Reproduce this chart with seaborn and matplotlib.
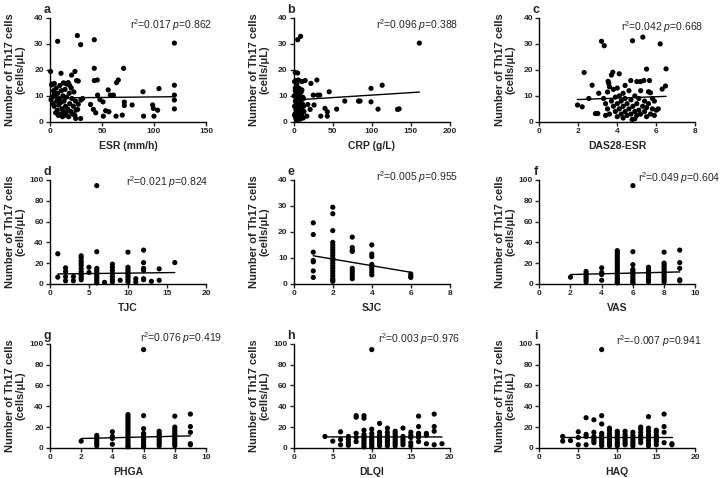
import numpy as np
import pandas as pd
import matplotlib
matplotlib.use('Agg')
import matplotlib.pyplot as plt
import seaborn as sns

# ---- data: (x, y) pairs for the continuous scores ----
esr_pts = [(0.6, 19.4), (7.4, 31), (26.3, 33.2), (29.5, 29.7), (42.6, 31.6), (119.6, 30.3),
           (10.6, 18.7), (20.8, 18), (24, 19.4), (42.6, 20.6), (70.8, 20.6), (42.6, 15.9),
           (45.5, 16.1), (25.6, 15.9), (27.2, 15.7), (64, 15.1), (65.7, 16.1), (119.6, 14.1),
           (4.2, 14.8), (1.6, 14.2), (15, 14.8), (17.6, 15.1), (56, 12.3), (89.4, 11.6),
           (104.8, 12.8), (119.6, 10.3), (119.6, 8.4), (119.6, 5.0), (58, 10.3), (61, 10.3),
           (48, 8.6), (51, 7.7), (45.8, 10.3), (71.5, 7.6), (71.5, 6.3), (79, 6.5), (98.7, 6.5),
           (99.4, 5.2), (100, 2.2), (103.5, 4.5), (90, 2.2), (63.5, 2.2), (69.5, 2.6), (53.5, 4.3),
           (56.7, 3.9), (51.3, 2.2), (39, 6.7), (41.7, 4.8), (44, 3.5), (31.4, 9), (29.8, 8.4),
           (27.2, 6.8), (26.6, 4.8), (24.7, 1.3), (29.5, 1.3),
           (1, 8.5), (2, 9.5), (3, 7), (3.5, 12), (4, 6), (5, 10), (5.5, 3.5), (6, 13), (6.5, 8),
           (7, 4.5), (7.5, 11), (8, 2.5), (8.5, 6.5), (9, 9), (9.5, 14), (10, 3), (10.5, 7.5),
           (11, 12), (11.5, 5), (12, 2), (12.5, 10), (13, 4), (13.5, 8), (14, 2.5), (14.5, 12.5),
           (15, 6), (15.5, 3.5), (16, 9.5), (16.5, 14.5), (17, 5), (18, 2), (18.5, 11), (19, 7),
           (20, 4), (20.5, 13), (21, 9), (22, 3), (22.5, 6), (23, 11.5), (24, 2.5), (24.5, 8),
           (25, 4.5), (2, 14.5), (4, 11), (13, 15), (19, 14)]

crp_pts = [(5, 31.6), (8.75, 32.9), (161, 30.3), (2, 19), (5, 18.8), (3, 15.9), (6, 16.1),
           (10.4, 15.5), (14.6, 15.9), (22, 14.8), (29.6, 16.1), (7, 12.9), (10.4, 12.3),
           (25, 10.3), (30.4, 10.3), (33.3, 10.3), (45.4, 11.6), (12.5, 9), (18, 6.7), (21, 4.8),
           (26, 6.5), (40, 5.2), (43, 3.9), (43, 2.2), (34.6, 2.2), (55, 4.9), (65.4, 8), (83, 8),
           (85, 8), (99, 12.9), (99, 7.7), (113.3, 14.1), (108, 4.9), (133, 4.8), (135, 5),
           (16.7, 2.2),
           (0.5, 10), (1, 6), (1.5, 3), (2, 13), (2, 8), (2.5, 1.5), (3, 11), (3, 4.5), (3.5, 7),
           (4, 14.5), (4, 2), (4.5, 9), (5, 5), (5, 12), (5.5, 3), (6, 7.5), (6.5, 1.5), (7, 10.5),
           (7, 4), (8, 6), (8.5, 2.5), (9, 8.5), (9.5, 11.5), (10, 5), (10.5, 3), (11, 7),
           (11.5, 9.5), (12, 1.5), (12.5, 6), (13, 4), (1, 15.5), (2, 12), (6, 9), (8, 1), (4, 0.8),
           (3, 10), (1, 2.5), (2.5, 5.5)]

das_pts = [(1.96, 6.5), (2.2, 5.8), (2.3, 19), (3.19, 31), (3.33, 29.3), (4.78, 31.2),
           (5.31, 32.6), (6.2, 30), (5.5, 20.3), (6.5, 20.4), (6.47, 13.8), (6.3, 12.6),
           (3.77, 19.1), (3.7, 18), (4.1, 18.5), (2.71, 14.1), (2.54, 9), (3.05, 11), (3.53, 15.6),
           (3.56, 14.8), (4.69, 15.9), (5.0, 15.5), (5.19, 15.5), (5.36, 15.9), (5.65, 15.9),
           (2.88, 3.2), (3.0, 3.2), (5.6, 11.6), (5.7, 11.2), (4.76, 0.9), (4.9, 1.2),
           (3.3, 9), (3.4, 7), (3.5, 5), (3.5, 11.5), (3.6, 3), (3.7, 8), (3.8, 6), (3.8, 12.5),
           (3.9, 4), (3.9, 9.5), (4.0, 2), (4.0, 7), (4.0, 13), (4.1, 5), (4.1, 10), (4.2, 3),
           (4.2, 8), (4.3, 1.5), (4.3, 6), (4.3, 11), (4.4, 4), (4.4, 9), (4.5, 2.5), (4.5, 7),
           (4.6, 5), (4.6, 12), (4.7, 3), (4.7, 8.5), (4.8, 6), (4.9, 4), (4.9, 10), (5.0, 2.5),
           (5.0, 7), (5.1, 4.5), (5.1, 9), (5.2, 3), (5.2, 12), (5.3, 6), (5.4, 4), (5.4, 8),
           (5.5, 2), (5.5, 5.5), (5.6, 7), (5.7, 3), (5.8, 5), (5.8, 9), (5.9, 2.5), (6.0, 4.5),
           (6.1, 5), (3.4, 2.5), (3.6, 13.5), (4.4, 14), (5.9, 8)]

# ---- integer scores: y values listed per x value ----
tjc_cols = {1: [29, 6.5], 2: [15.5, 12, 7, 3], 3: [7, 3],
            4: [27, 25, 22, 20, 18, 15, 12, 10, 8, 6, 4], 5: [16, 11],
            6: [94.5, 31, 15, 13, 11, 9, 7, 5, 3, 1], 7: [1.5], 8: [19, 16, 13, 10, 7, 4, 2],
            9: [3.5], 10: [30.5, 16, 14, 12, 10, 8, 6, 4, 2], 11: [5, 2],
            12: [32.5, 20.5, 15, 13, 5, 4], 13: [2.5], 14: [14.5, 3.5], 16: [20.5]}

sjc_cols = {1: [23.5, 19, 12.2, 9, 8.5, 5, 2.5],
            2: [29.5, 27, 20.5, 16, 15, 14, 13, 12, 11, 10, 9.5, 9, 8, 7, 6, 5, 4, 3, 2, 1.5, 1],
            3: [18, 14, 13, 12.5, 6, 5, 4, 3, 2],
            4: [15, 11.5, 10.5, 7.5, 7, 6.5, 5.5, 4.5, 3.5],
            6: [3.8, 3, 2.5]}

vas_cols = {2: [6.5], 3: [12, 10, 8, 6, 4, 2], 4: [15.5, 11, 9, 3.5],
            5: [32, 30, 28, 26, 24, 22, 20, 18, 16, 14, 12, 10, 8, 6, 4, 2, 1],
            6: [94.5, 31, 18.5, 14, 12, 10, 8, 6, 4, 2, 1],
            7: [16, 14, 12, 10, 8, 6, 4, 2],
            8: [30.5, 20, 18, 16, 14, 12, 10, 8, 6, 4, 2],
            9: [32.5, 20.5, 15, 4, 3]}
phga_cols = dict(vas_cols)

dlqi_cols = {4: [11], 5: [6.5], 6: [15.5, 8, 3], 7: [11, 8, 5, 2.5], 8: [31, 29.5, 14, 10, 6],
             9: [31, 28.5, 17, 13, 11, 9, 7, 5, 3, 1], 10: [94.5, 18, 14, 11, 9, 7, 5, 3, 1],
             11: [23.5, 15, 12, 10, 8, 6, 4, 2], 12: [19, 15, 12, 10, 8, 6, 4, 2],
             13: [16, 14, 12, 10, 8, 6, 4, 2], 14: [19, 11, 9, 7, 5, 3], 15: [15, 12, 10, 5, 2],
             16: [30.5, 20.5, 14, 12, 10, 6], 17: [14, 12, 4], 18: [32.5, 20.5, 16, 3], 19: [4]}

haq_cols = {3: [11, 6.5], 4: [7], 5: [15.5, 10, 3], 6: [29, 13, 11, 3], 7: [27, 15, 11, 9, 7, 5],
            8: [94.5, 31, 23, 14, 12, 10, 8, 6, 4, 2], 9: [19, 17, 14, 12, 10, 8, 6, 4, 2],
            10: [16, 14, 12, 10, 8, 6, 4, 2], 11: [16, 13, 11, 9, 7, 5, 3],
            12: [15, 12, 10, 8, 6, 4, 2], 13: [20, 18, 15, 12, 10, 8, 5],
            14: [30, 19, 16, 13, 11, 9, 7, 4, 2], 15: [17, 15, 12, 10, 8, 6, 3],
            16: [32.5, 20.5, 15, 5], 17: [4, 3]}

# fitted lines (intercept, slope)
fit_b0 = [9.2, 8.4, 8.06, 9.5, 12.1, 8.3, 8.3, 10.6, 10.5]
fit_b1 = [0.004, 0.019, 0.27, 0.09, -1.27, 0.36, 0.36, -0.005, 0.0]

letters = ['a', 'b', 'c', 'd', 'e', 'f', 'g', 'h', 'i']
xlabels = ['ESR (mm/h)', 'CRP (g/L)', 'DAS28-ESR', 'TJC', 'SJC', 'VAS', 'PHGA', 'DLQI', 'HAQ']
r2_txt = ['0.017', '0.096', '0.042', '0.021', '0.005', '0.049', '0.076', '0.003', '-0.007']
p_txt = ['0.862', '0.388', '0.668', '0.824', '0.955', '0.604', '0.419', '0.976', '0.941']
xmax = [150, 200, 8, 20, 8, 10, 10, 20, 20]
xstep = [50, 50, 2, 5, 2, 2, 2, 5, 5]
ymax = [40, 40, 40, 100, 40, 100, 100, 100, 100]
ystep = [10, 10, 10, 20, 10, 20, 20, 20, 20]


def pts_frame(pts):
    return pd.DataFrame(pts, columns=['x', 'y'])


def cols_frame(cols):
    rows = [(x, y) for x, yl in cols.items() for y in yl]
    return pd.DataFrame(rows, columns=['x', 'y'])


frames = [pts_frame(esr_pts), pts_frame(crp_pts), pts_frame(das_pts),
          cols_frame(tjc_cols), cols_frame(sjc_cols), cols_frame(vas_cols),
          cols_frame(phga_cols), cols_frame(dlqi_cols), cols_frame(haq_cols)]

# ---- style ----
sns.set_theme(style='ticks')
plt.rcParams['font.family'] = ['Liberation Sans', 'DejaVu Sans']
plt.rcParams['mathtext.fontset'] = 'custom'
plt.rcParams['mathtext.rm'] = 'Liberation Sans'
plt.rcParams['mathtext.it'] = 'Liberation Sans:italic'
plt.rcParams['axes.linewidth'] = 1.0
plt.rcParams['xtick.major.width'] = 1.0
plt.rcParams['ytick.major.width'] = 1.0
plt.rcParams['xtick.major.size'] = 3
plt.rcParams['ytick.major.size'] = 3
plt.rcParams['xtick.major.pad'] = 1.5
plt.rcParams['ytick.major.pad'] = 1.5
plt.rcParams['axes.edgecolor'] = 'black'

fig = plt.figure(figsize=(7.2, 4.78), dpi=100)

lefts = [0.0694, 0.408, 0.749]
bottoms = [0.745, 0.406, 0.063]
w, h = 0.2167, 0.2176
txt_x = [0.51, 0.53, 0.525, 0.49, 0.53, 0.63, 0.58, 0.54, 0.49]
txt_y = [0.89, 0.89, 0.875, 0.94, 0.99, 0.98, 1.02, 1.01, 0.99]

for k in range(9):
    r, c = divmod(k, 3)
    ax = fig.add_axes([lefts[c], bottoms[r], w, h])
    df = frames[k]
    sns.scatterplot(data=df, x='x', y='y', ax=ax, color='black', s=14,
                    edgecolor='none', clip_on=False, zorder=3)
    xl = np.array([df['x'].min(), df['x'].max()])
    line = pd.DataFrame({'x': xl, 'y': fit_b0[k] + fit_b1[k] * xl})
    sns.lineplot(data=line, x='x', y='y', ax=ax, color='black', linewidth=1.0)

    ax.set_xlim(0, xmax[k])
    ax.set_ylim(0, ymax[k])
    ax.set_xticks(np.arange(0, xmax[k] + 0.001, xstep[k]))
    ax.set_yticks(np.arange(0, ymax[k] + 0.001, ystep[k]))
    ax.tick_params(labelsize=6)
    for lab in ax.get_xticklabels() + ax.get_yticklabels():
        lab.set_fontweight('bold')
    sns.despine(ax=ax)
    ax.set_xlabel(xlabels[k], fontsize=7.5, fontweight='bold', labelpad=4)
    ax.set_ylabel('Number of Th17 cells\n(cells/\u03bcL)', fontsize=8, fontweight='bold',
                  linespacing=1.05)
    ax.yaxis.set_label_coords(-0.155, 0.5)
    ax.text(-0.02, 1.05, letters[k], transform=ax.transAxes, fontsize=9,
            fontweight='bold', ha='center', va='baseline')
    ax.text(txt_x[k], txt_y[k], r'r$^{2}$=' + r2_txt[k] + r' $\it{p}$=' + p_txt[k],
            transform=ax.transAxes, fontsize=7.5, ha='left', va='baseline')

fig.savefig('out.png', dpi=100, facecolor='white')
